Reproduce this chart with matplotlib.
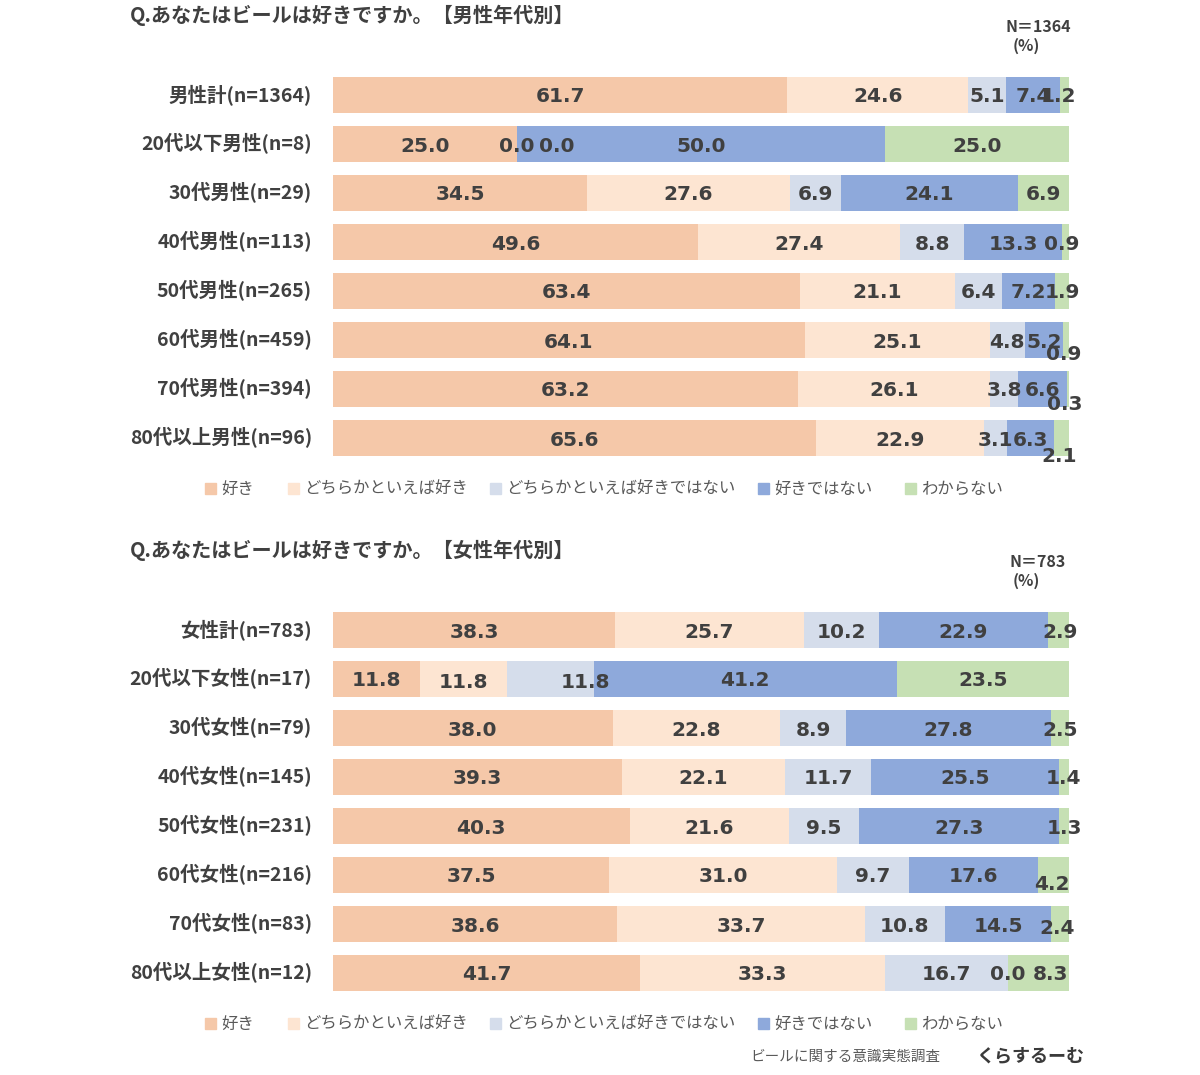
#!/usr/bin/python
"""Beer preference survey: stacked 100% bars by age group (men / women)."""

import matplotlib.pyplot as plt

plt.rcParams['font.family'] = ['Noto Sans CJK JP', 'DejaVu Sans']

# --- data -------------------------------------------------------------
answers = ['好き', 'どちらかといえば好き', 'どちらかといえば好きではない',
           '好きではない', 'わからない']
colors = ['#F5C8A9', '#FDE5D2', '#D5DDEB', '#8EA9DB', '#C6E0B4']

men_groups = ['男性計(n=1364)', '20代以下男性(n=8)', '30代男性(n=29)',
              '40代男性(n=113)', '50代男性(n=265)', '60代男性(n=459)',
              '70代男性(n=394)', '80代以上男性(n=96)']
men_like = [61.7, 25.0, 34.5, 49.6, 63.4, 64.1, 63.2, 65.6]
men_rather_like = [24.6, 0.0, 27.6, 27.4, 21.1, 25.1, 26.1, 22.9]
men_rather_dislike = [5.1, 0.0, 6.9, 8.8, 6.4, 4.8, 3.8, 3.1]
men_dislike = [7.4, 50.0, 24.1, 13.3, 7.2, 5.2, 6.6, 6.3]
men_unknown = [1.2, 25.0, 6.9, 0.9, 1.9, 0.9, 0.3, 2.1]

women_groups = ['女性計(n=783)', '20代以下女性(n=17)', '30代女性(n=79)',
                '40代女性(n=145)', '50代女性(n=231)', '60代女性(n=216)',
                '70代女性(n=83)', '80代以上女性(n=12)']
women_like = [38.3, 11.8, 38.0, 39.3, 40.3, 37.5, 38.6, 41.7]
women_rather_like = [25.7, 11.8, 22.8, 22.1, 21.6, 31.0, 33.7, 33.3]
women_rather_dislike = [10.2, 11.8, 8.9, 11.7, 9.5, 9.7, 10.8, 16.7]
women_dislike = [22.9, 41.2, 27.8, 25.5, 27.3, 17.6, 14.5, 0.0]
women_unknown = [2.9, 23.5, 2.5, 1.4, 1.3, 4.2, 2.4, 8.3]

# label nudges in pixels (row, segment) -> (dx, dy), dy positive = down
men_nudge = {(0, 4): (-6, 0), (1, 2): (40, 1), (3, 4): (-4, 0),
             (5, 4): (-3, 12), (6, 4): (-3, 13), (7, 4): (-2, 16)}
women_nudge = {(0, 4): (2, 0), (1, 2): (35, 1), (1, 1): (0, 2),
               (5, 4): (-2, 7), (6, 4): (-3, 3), (7, 4): (12, 0)}

W, H = 1200, 1075
TEXT = '#404040'


def px_ax(fig, left, top, right, bottom):
    return fig.add_axes([left / W, 1 - bottom / H, (right - left) / W, (bottom - top) / H])


def draw_panel(fig, top, title, n_text, groups, series, nudge):
    # top = pixel y of the first bar centre
    step = 49
    ax = px_ax(fig, 333, top - step / 2, 1069, top + step * 7.5)
    n = len(groups)
    rows = list(range(n))
    left = [0.0] * n
    for s, (vals, col) in enumerate(zip(series, colors)):
        ax.barh(rows, vals, left=left, height=0.74, color=col, edgecolor='none')
        for r in rows:
            cx = left[r] + vals[r] / 2
            dx, dy = nudge.get((r, s), (0, 0))
            dy += 2
            ax.annotate(f'{vals[r]:.1f}', (cx, r), xytext=(dx * 0.72, -dy * 0.72),
                        textcoords='offset points', ha='center', va='center',
                        fontsize=14.5, fontweight='bold', color=TEXT,
                        family=['DejaVu Sans'], annotation_clip=False)
        left = [a + b for a, b in zip(left, vals)]
    ax.set_xlim(0, 100)
    ax.set_ylim(n - 0.5, -0.5)
    ax.axis('off')
    for r, g in enumerate(groups):
        ax.annotate(g, (0, r), xytext=(-21 * 0.72, 0), textcoords='offset points',
                    ha='right', va='center', fontsize=14, fontweight='bold',
                    color=TEXT, annotation_clip=False)

    y0 = top - 80
    fig.text(130 / W, 1 - y0 / H, title, ha='left', va='center', fontsize=14.5,
             fontweight='bold', color=TEXT)
    fig.text(1038 / W, 1 - (y0 + 12) / H, n_text, ha='center', va='center',
             fontsize=11.5, fontweight='bold', color=TEXT)
    fig.text(1026 / W, 1 - (y0 + 31) / H, '(%)', ha='center', va='center',
             fontsize=11.5, fontweight='bold', color=TEXT)

    # legend row
    ly = top + step * 8 + 2
    xs = [205, 288, 490, 758, 905]
    for x, lab, col in zip(xs, answers, colors):
        fig.patches.append(plt.Rectangle(((x) / W, 1 - (ly + 5) / H), 11 / W, 11 / H,
                                         transform=fig.transFigure, color=col))
        fig.text((x + 16) / W, 1 - ly / H, lab, ha='left', va='center',
                 fontsize=11.8, color='#595959')


fig = plt.figure(figsize=(W / 100, H / 100), dpi=100)

draw_panel(fig, 95, 'Q.あなたはビールは好きですか。【男性年代別】', 'N＝1364', men_groups,
           [men_like, men_rather_like, men_rather_dislike, men_dislike, men_unknown],
           men_nudge)
draw_panel(fig, 630, 'Q.あなたはビールは好きですか。【女性年代別】', 'N＝783', women_groups,
           [women_like, women_rather_like, women_rather_dislike, women_dislike, women_unknown],
           women_nudge)

fig.text(845 / W, 1 - 1057 / H, 'ビールに関する意識実態調査', ha='center', va='center',
         fontsize=10.5, color='#595959')
fig.text(1030 / W, 1 - 1056 / H, 'くらするーむ', ha='center', va='center',
         fontsize=13, fontweight='bold', color='#3A3A3A')

fig.savefig('out.png', dpi=100)
